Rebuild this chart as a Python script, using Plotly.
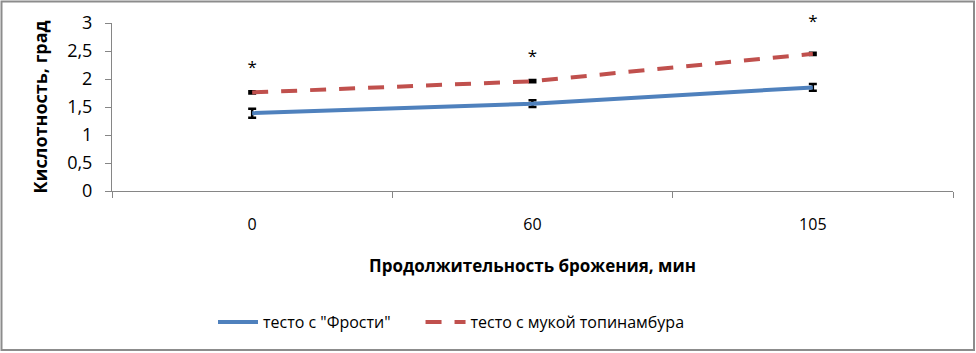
import plotly.graph_objects as go

categories = ["0", "60", "105"]
frosti = [1.39, 1.56, 1.85]
frosti_err = [0.08, 0.06, 0.06]
topinambur = [1.76, 1.96, 2.45]
topinambur_err = [0.02, 0.02, 0.02]
star_y = [2.18, 2.38, 3.0]
star_text = ["*", "*", "*"]
y_ticks = [0, 0.5, 1, 1.5, 2, 2.5, 3]
y_ticklabels = ["0", "0,5", "1", "1,5", "2", "2,5", "3"]

W, H = 976, 353
L, R, T, B = 112, 23, 23, 162
FONT = "Open Sans"
pw = W - L - R
ph = H - T - B


def px_x(p):
    return (p - L) / pw


def px_y(p):
    return (H - B - p) / ph


fig = go.Figure()
fig.add_trace(go.Scatter(
    x=categories, y=frosti, mode="lines", name='тесто с "Фрости"' + "\u00a0" * 6,
    line=dict(color="#4F81BD", width=4),
    error_y=dict(type="data", array=frosti_err, color="black", thickness=2.5, width=4),
))
fig.add_trace(go.Scatter(
    x=categories, y=topinambur, mode="lines", name="тесто с мукой топинамбура",
    line=dict(color="#C0504D", width=4, dash="16px,13px"),
    error_y=dict(type="data", array=topinambur_err, color="black", thickness=2.5, width=4),
))
fig.add_trace(go.Scatter(
    x=categories, y=star_y, mode="text", text=star_text, showlegend=False,
    cliponaxis=False, textfont=dict(size=17, color="black", family=FONT),
    hoverinfo="skip",
))

fig.add_shape(type="rect", xref="paper", yref="paper",
              x0=px_x(1.5), x1=px_x(974), y0=px_y(350), y1=px_y(1.5),
              line=dict(color="#8c8c8c", width=2), layer="below")

fig.update_layout(
    width=W, height=H,
    margin=dict(l=L, r=R, t=T, b=B, autoexpand=False),
    paper_bgcolor="white", plot_bgcolor="white",
    font=dict(family=FONT, color="black", size=16),
    showlegend=True,
    legend=dict(orientation="h", x=px_x(213), xanchor="left", y=px_y(322), yanchor="middle",
                font=dict(size=16, family=FONT), itemwidth=40, tracegroupgap=0,
                bgcolor="rgba(0,0,0,0)"),
    xaxis=dict(type="category", range=[-0.5, 2.5], showgrid=False, automargin=False,
               showline=True, linecolor="#868686", linewidth=1,
               ticks="outside", tickson="boundaries", ticklen=6, tickcolor="#868686",
               ticklabelstandoff=19, tickfont=dict(size=16),
               title=dict(text="<b>Продолжительность брожения, мин</b>", font=dict(size=17), standoff=25)),
    yaxis=dict(range=[0, 3], tickvals=y_ticks, ticktext=y_ticklabels, showgrid=False, automargin=False,
               showline=True, linecolor="#868686", linewidth=1, zeroline=False,
               ticks="outside", ticklen=6, tickcolor="#868686", tickfont=dict(size=18),
               ticklabelstandoff=9,
               title=dict(text="<b>Кислотность, град</b>", font=dict(size=18), standoff=14)),
)

fig.write_html("out.html", config={"displayModeBar": False},
               post_script="document.body.style.margin='0';document.body.style.overflow='hidden';")
